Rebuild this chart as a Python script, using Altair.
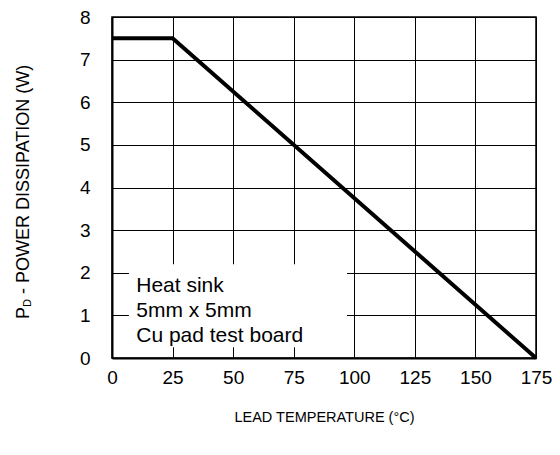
import altair as alt
import pandas as pd

# Data
temp = [0, 25, 175]
power = [7.5, 7.5, 0]

x_ticks = [0, 25, 50, 75, 100, 125, 150, 175]
y_ticks = [0, 1, 2, 3, 4, 5, 6, 7, 8]

note_lines = ["Heat sink", "5mm x 5mm", "Cu pad test board"]
note_y = [1.68, 1.10, 0.52]
note_x = [10, 10, 10]

box_x = [7]
box_x2 = [97]
box_y = [0.25]
box_y2 = [2.2]

FONT = "Liberation Sans"

curve = pd.DataFrame({"t": temp, "p": power})
notes = pd.DataFrame({"label": note_lines, "x": note_x, "y": note_y})
box = pd.DataFrame({"x": box_x, "x2": box_x2, "y": box_y, "y2": box_y2})

xscale = alt.Scale(domain=[0, 175], nice=False, zero=False)
yscale = alt.Scale(domain=[0, 8], nice=False, zero=False)

xaxis = alt.Axis(values=x_ticks, title="LEAD TEMPERATURE (°C)", grid=True,
                 gridColor="black", gridOpacity=1, gridWidth=1,
                 domainColor="black", domainWidth=2, ticks=False,
                 labelFont=FONT, labelFontSize=19, labelColor="black",
                 labelPadding=10, labelFlush=False,
                 titleFont=FONT, titleFontSize=14.5, titleFontWeight="normal",
                 titleColor="black", titlePadding=23)
yaxis = alt.Axis(values=y_ticks, title=None, grid=True,
                 gridColor="black", gridOpacity=1, gridWidth=1,
                 domainColor="black", domainWidth=2, ticks=False,
                 labelFont=FONT, labelFontSize=19, labelColor="black",
                 labelPadding=22, labelFlush=False)

base = alt.Chart(curve).mark_line(color="black", strokeWidth=4).encode(
    x=alt.X("t:Q", scale=xscale, axis=xaxis),
    y=alt.Y("p:Q", scale=yscale, axis=yaxis),
)

rect = alt.Chart(box).mark_rect(color="white", opacity=1).encode(
    x=alt.X("x:Q", scale=xscale), x2="x2:Q",
    y=alt.Y("y:Q", scale=yscale), y2="y2:Q",
)

txt = alt.Chart(notes).mark_text(align="left", baseline="middle", font=FONT,
                                 fontSize=21, color="black").encode(
    x=alt.X("x:Q", scale=xscale),
    y=alt.Y("y:Q", scale=yscale),
    text="label:N",
)

ytitle_df = pd.DataFrame({"a": [0]})
t_p = alt.Chart(ytitle_df).mark_text(text="P", angle=270, align="left",
                                     baseline="alphabetic", font=FONT,
                                     fontSize=18, color="black").encode(
    x=alt.value(-83), y=alt.value(302))
t_d = alt.Chart(ytitle_df).mark_text(text="D", angle=270, align="left",
                                     baseline="alphabetic", font=FONT,
                                     fontSize=11, color="black").encode(
    x=alt.value(-81), y=alt.value(290))
t_rest = alt.Chart(ytitle_df).mark_text(text="- POWER DISSIPATION (W)", angle=270,
                                        align="left", baseline="alphabetic",
                                        font=FONT, fontSize=18,
                                        color="black").encode(
    x=alt.value(-83), y=alt.value(277))

chart = alt.layer(rect, base, txt, t_p, t_d, t_rest).properties(
    width=424, height=341,
    autosize=alt.AutoSizeParams(type="none"),
    padding={"left": 104, "top": 9, "right": 16, "bottom": 89},
    background="white",
).configure_view(stroke="black", strokeWidth=1.5)

chart.save("out.html", embed_options={"renderer": "svg", "actions": False})
